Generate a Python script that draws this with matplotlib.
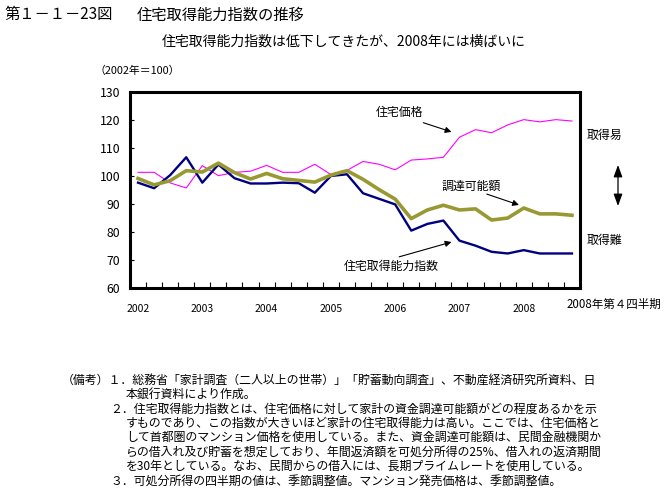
import matplotlib
matplotlib.use("Agg")
import matplotlib.pyplot as plt
import numpy as np

plt.rcParams['font.family'] = ['Noto Sans CJK JP', 'DejaVu Sans']

W, H = 666, 494

# 2002年第1四半期 ～ 2008年第4四半期
quarters = [f"{y}Q{q}" for y in range(2002, 2009) for q in range(1, 5)]
year_ticks = ["2002", "2003", "2004", "2005", "2006", "2007", "2008"]

# 住宅価格
price = [101.3, 101.3, 97.5, 95.7, 103.7, 100.1, 101.3, 101.7, 103.8, 101.3,
         101.3, 104.2, 100.5, 102.0, 105.2, 104.2, 102.2, 105.7, 106.1, 106.7,
         113.9, 116.6, 115.5, 118.3, 120.2, 119.4, 120.2, 119.7]
# 住宅取得能力指数
afford = [97.6, 95.6, 100.3, 106.7, 97.6, 104.1, 99.2, 97.3, 97.3, 97.6,
          97.4, 94.0, 100.0, 100.6, 93.8, 91.8, 89.8, 80.4, 82.8, 84.0,
          76.8, 75.0, 72.8, 72.2, 73.4, 72.2, 72.2, 72.2]
# 調達可能額
funds = [99.1, 96.8, 98.3, 101.9, 101.4, 104.6, 101.2, 98.9, 100.9, 99.0,
         98.4, 97.8, 100.3, 101.9, 98.8, 95.1, 91.7, 84.7, 87.8, 89.5,
         87.8, 88.2, 84.2, 84.9, 88.5, 86.4, 86.4, 85.9]

notes = [
    (62, "（備考）１．総務省「家計調査（二人以上の世帯）」「貯蓄動向調査」、不動産経済研究所資料、日"),
    (126, "本銀行資料により作成。"),
    (110, "２．住宅取得能力指数とは、住宅価格に対して家計の資金調達可能額がどの程度あるかを示"),
    (126, "すものであり、この指数が大きいほど家計の住宅取得能力は高い。ここでは、住宅価格と"),
    (126, "して首都圏のマンション価格を使用している。また、資金調達可能額は、民間金融機関か"),
    (126, "らの借入れ及び貯蓄を想定しており、年間返済額を可処分所得の25%、借入れの返済期間"),
    (126, "を30年としている。なお、民間からの借入には、長期プライムレートを使用している。"),
    (110, "３．可処分所得の四半期の値は、季節調整値。マンション発売価格は、季節調整値。"),
]


def fp(x, y):
    # 画像ピクセル座標 -> figure fraction
    return x / W, 1 - y / H


fig = plt.figure(figsize=(W / 100, H / 100), dpi=100)
ax = fig.add_axes([130 / W, 1 - 287.5 / H, 450 / W, 195.2 / H])

x = np.arange(len(quarters))
ax.plot(x, price, color="#ff00ff", lw=0.8)
ax.plot(x, afford, color="#000080", lw=1.7)
ax.plot(x, funds, color="#999933", lw=2.6)

ax.set_xlim(-0.5, len(quarters) - 0.5)
ax.set_ylim(60, 130)
ax.set_yticks(range(60, 131, 10))
ax.set_xticks(x[::4])
ax.set_xticklabels(year_ticks, fontsize=7.5)
ax.set_xticks(np.arange(0.5, len(quarters) - 1, 1), minor=True)
ax.tick_params(axis="x", which="major", length=0, pad=12)
ax.tick_params(axis="x", which="minor", direction="in", length=4, width=0.8)
ax.tick_params(axis="y", direction="in", length=3, width=0.8, labelsize=8.8, pad=7)
for s in ax.spines.values():
    s.set_linewidth(2.2)

ax.annotate("2008年第４四半期", xy=(x[-1], 0), xycoords=("data", "axes fraction"),
            xytext=(-5, -16.5), textcoords="offset pixels", ha="left", va="center",
            fontsize=8.3, annotation_clip=False)

# 系列ラベルと矢印
arrow = dict(arrowstyle="-|>", color="black", lw=0.8, mutation_scale=9, shrinkA=0, shrinkB=0)
ax.text(16.25, 122.6, "住宅価格", fontsize=8.6, ha="center", va="center")
ax.annotate("", xy=(19.5, 115.8), xytext=(17.75, 119.1), arrowprops=arrow)
ax.text(20.75, 96.4, "調達可能額", fontsize=8.6, ha="center", va="center")
ax.annotate("", xy=(23.7, 89.6), xytext=(21.7, 93.5), arrowprops=arrow)
ax.text(15.75, 67.7, "住宅取得能力指数", fontsize=8.6, ha="center", va="center")
ax.annotate("", xy=(19.5, 76.3), xytext=(16.25, 71.0), arrowprops=arrow)

fig.text(*fp(587, 135), "取得易", fontsize=8.6, va="center")
fig.text(*fp(587, 240), "取得難", fontsize=8.6, va="center")
ax.annotate("", xy=fp(618, 165), xytext=fp(618, 206), xycoords="figure fraction",
            textcoords="figure fraction",
            arrowprops=dict(arrowstyle="<|-|>,head_length=0.6,head_width=0.22",
                            color="black", lw=0.9, mutation_scale=12,
                            shrinkA=0, shrinkB=0))

# タイトル等
fig.text(*fp(4, 15), "第１－１－23図", fontsize=11, va="center")
fig.text(*fp(137, 15), "住宅取得能力指数の推移", fontsize=11, va="center")
fig.text(*fp(344, 42), "住宅取得能力指数は低下してきたが、2008年には横ばいに",
         fontsize=10, ha="center", va="center")
fig.text(*fp(95, 71), "（2002年＝100）", fontsize=7.8, va="center")

for i, (nx, line) in enumerate(notes):
    fig.text(*fp(nx, 380 + 14.4 * i), line, fontsize=8.6, va="center")

fig.savefig("out.png", dpi=100)
